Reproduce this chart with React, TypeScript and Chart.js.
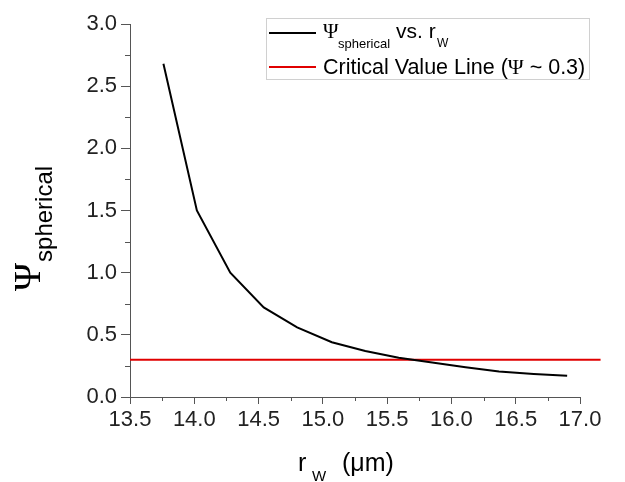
import React, { useEffect, useRef } from "react";
import { Chart, registerables } from "chart.js";

Chart.register(...registerables);

const rW = [13.76, 14.02, 14.28, 14.54, 14.8, 15.07, 15.33, 15.59, 15.85, 16.11, 16.37, 16.64, 16.9];
const psi = [2.68, 1.5, 1.0, 0.72, 0.56, 0.44, 0.37, 0.315, 0.277, 0.24, 0.205, 0.185, 0.17];
const criticalX = [13.5, 17.16];
const criticalY = [0.3, 0.3];
const xMinorTicks = [13.75, 14.25, 14.75, 15.25, 15.75, 16.25, 16.75];
const yMinorTicks = [0.25, 0.75, 1.25, 1.75, 2.25, 2.75];

const SANS = "'Liberation Sans', Arial, sans-serif";
const SERIF = "'Liberation Serif', 'Times New Roman', serif";
const AXIS = "#555";

const decor = {
  id: "decor",
  afterDraw(chart: any) {
    const ctx = chart.ctx as CanvasRenderingContext2D;
    const xs = chart.scales.x;
    const ys = chart.scales.y;
    const area = chart.chartArea;
    ctx.save();
    // minor ticks
    ctx.strokeStyle = AXIS;
    ctx.lineWidth = 1;
    ctx.beginPath();
    xMinorTicks.forEach((v) => {
      const px = Math.round(xs.getPixelForValue(v)) + 0.5;
      ctx.moveTo(px, area.bottom);
      ctx.lineTo(px, area.bottom + 4);
    });
    yMinorTicks.forEach((v) => {
      const py = Math.round(ys.getPixelForValue(v)) + 0.5;
      ctx.moveTo(area.left - 5, py);
      ctx.lineTo(area.left, py);
    });
    ctx.stroke();

    // legend
    ctx.strokeStyle = "#d0d0d0";
    ctx.lineWidth = 1;
    ctx.strokeRect(266.5, 18.5, 323, 61);
    ctx.lineWidth = 2;
    ctx.strokeStyle = "#000";
    ctx.beginPath();
    ctx.moveTo(269, 33);
    ctx.lineTo(316, 33);
    ctx.stroke();
    ctx.strokeStyle = "#e00000";
    ctx.beginPath();
    ctx.moveTo(269, 67);
    ctx.lineTo(316, 67);
    ctx.stroke();

    ctx.fillStyle = "#000";
    ctx.textBaseline = "alphabetic";
    ctx.textAlign = "left";
    ctx.font = `21px ${SERIF}`;
    ctx.fillText("\u03A8", 323, 38);
    ctx.font = `13px ${SANS}`;
    ctx.fillText("spherical", 338, 48);
    ctx.font = `21px ${SANS}`;
    ctx.fillText("vs. r", 396, 38);
    ctx.font = `12px ${SANS}`;
    ctx.fillText("W", 437, 47);

    ctx.font = `21.5px ${SANS}`;
    const p1 = "Critical Value Line (";
    ctx.fillText(p1, 323, 74);
    let cx = 323 + ctx.measureText(p1).width;
    ctx.font = `21.5px ${SERIF}`;
    ctx.fillText("\u03A8", cx, 74);
    cx += ctx.measureText("\u03A8").width;
    ctx.font = `21.5px ${SANS}`;
    ctx.fillText(" ~ 0.3)", cx, 74);

    // x title
    ctx.font = `25px ${SANS}`;
    ctx.fillText("r", 298, 471);
    ctx.font = `15px ${SANS}`;
    ctx.fillText("W", 312, 481);
    ctx.font = `25px ${SANS}`;
    ctx.fillText("(\u03BCm)", 342, 471);

    // y title
    ctx.translate(40, 291);
    ctx.rotate(-Math.PI / 2);
    ctx.font = `38px ${SERIF}`;
    ctx.fillText("\u03A8", 0, 0);
    const w = ctx.measureText("\u03A8").width;
    ctx.font = `24px ${SANS}`;
    ctx.fillText("spherical", w + 1, 12);
    ctx.restore();
  },
};

export default function App() {
  const ref = useRef<HTMLCanvasElement | null>(null);
  useEffect(() => {
    if (!ref.current) return;
    const chart = new Chart(ref.current, {
      type: "line",
      data: {
        datasets: [
          {
            label: "curve",
            data: rW.map((x, i) => ({ x, y: psi[i] })),
            borderColor: "#000",
            borderWidth: 2,
            pointRadius: 0,
            tension: 0,
          },
          {
            label: "critical",
            data: criticalX.map((x, i) => ({ x, y: criticalY[i] })),
            borderColor: "#e00000",
            borderWidth: 2,
            pointRadius: 0,
            clip: false as any,
          },
        ],
      },
      options: {
        animation: false,
        responsive: false,
        events: [],
        layout: { padding: { top: 24, right: 45, left: 0, bottom: 0 } },
        plugins: { legend: { display: false }, tooltip: { enabled: false } },
        scales: {
          x: {
            type: "linear",
            min: 13.5,
            max: 17,
            ticks: {
              stepSize: 0.5,
              callback: (v: any) => Number(v).toFixed(1),
              font: { family: SANS, size: 22 },
              color: "#222",
              padding: 3,
              maxRotation: 0,
              autoSkip: false,
            },
            grid: { drawOnChartArea: false, tickLength: 7, tickColor: AXIS },
            border: { color: AXIS, width: 1 },
            afterFit: (s: any) => {
              s.height = 85;
            },
          },
          y: {
            type: "linear",
            min: 0,
            max: 3,
            ticks: {
              stepSize: 0.5,
              callback: (v: any) => Number(v).toFixed(1),
              font: { family: SANS, size: 22 },
              color: "#222",
              padding: 4,
            },
            grid: { drawOnChartArea: false, tickLength: 9, tickColor: AXIS },
            border: { color: AXIS, width: 1 },
            afterFit: (s: any) => {
              s.width = 130;
            },
          },
        },
      },
      plugins: [decor],
    });
    return () => chart.destroy();
  }, []);
  return (
    <div style={{ position: "fixed", left: 0, top: 0, width: 625, height: 482, background: "#fff" }}>
      <canvas ref={ref} width={625} height={482} />
    </div>
  );
}
